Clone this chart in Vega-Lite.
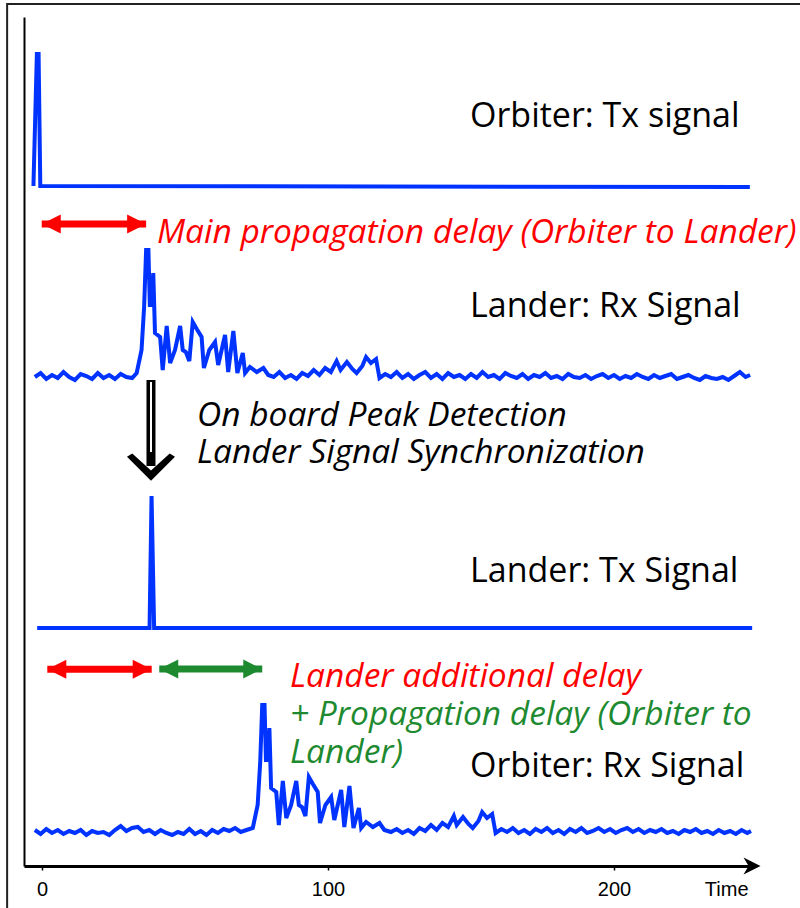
{
  "$schema": "https://vega.github.io/schema/vega-lite/v6.json",
  "width": 728,
  "height": 849,
  "autosize": {"type": "none"},
  "padding": {"left": 24, "top": 17, "right": 48, "bottom": 42},
  "background": "white",
  "config": {"view": {"stroke": null}},
  "datasets": {
    "frame": [{"t": -12.2, "t2": 330, "v": -200, "v2": 862}],
    "signals": [
      {"s": "otx", "t": -3.0, "v": 680}, {"s": "otx", "t": -1.8, "v": 812}, {"s": "otx", "t": -1.2, "v": 812}, {"s": "otx", "t": -0.6, "v": 680}, {"s": "otx", "t": 247.5, "v": 679},
      {"s": "ltx", "t": -1.7, "v": 238}, {"s": "ltx", "t": 37.6, "v": 238}, {"s": "ltx", "t": 38.3, "v": 370}, {"s": "ltx", "t": 39.2, "v": 238}, {"s": "ltx", "t": 248.3, "v": 238},
      {"s": "lrx", "t": -2.5, "v": 489}, {"s": "lrx", "t": -0.5, "v": 493}, {"s": "lrx", "t": 1.5, "v": 487}, {"s": "lrx", "t": 3.5, "v": 491}, {"s": "lrx", "t": 5.5, "v": 488}, {"s": "lrx", "t": 7.5, "v": 494}, {"s": "lrx", "t": 9.5, "v": 489}, {"s": "lrx", "t": 11.5, "v": 486}, {"s": "lrx", "t": 13.5, "v": 492}, {"s": "lrx", "t": 15.5, "v": 490}, {"s": "lrx", "t": 17.5, "v": 487}, {"s": "lrx", "t": 19.5, "v": 493}, {"s": "lrx", "t": 21.5, "v": 488}, {"s": "lrx", "t": 23.5, "v": 491}, {"s": "lrx", "t": 25.5, "v": 487}, {"s": "lrx", "t": 27.5, "v": 492}, {"s": "lrx", "t": 29.5, "v": 489}, {"s": "lrx", "t": 31.5, "v": 488},
      {"s": "lrx", "t": 33.1, "v": 493}, {"s": "lrx", "t": 34.8, "v": 516}, {"s": "lrx", "t": 35.7, "v": 559}, {"s": "lrx", "t": 36.4, "v": 616}, {"s": "lrx", "t": 37.2, "v": 616}, {"s": "lrx", "t": 37.7, "v": 561}, {"s": "lrx", "t": 38.3, "v": 561}, {"s": "lrx", "t": 38.9, "v": 593}, {"s": "lrx", "t": 39.5, "v": 533}, {"s": "lrx", "t": 41.3, "v": 529}, {"s": "lrx", "t": 42.2, "v": 496}, {"s": "lrx", "t": 43.6, "v": 540}, {"s": "lrx", "t": 44.8, "v": 503}, {"s": "lrx", "t": 46.5, "v": 516}, {"s": "lrx", "t": 48.3, "v": 540}, {"s": "lrx", "t": 49.2, "v": 516}, {"s": "lrx", "t": 50.3, "v": 514}, {"s": "lrx", "t": 51.5, "v": 505}, {"s": "lrx", "t": 52.7, "v": 544}, {"s": "lrx", "t": 54.1, "v": 537}, {"s": "lrx", "t": 55.8, "v": 529}, {"s": "lrx", "t": 56.6, "v": 498}, {"s": "lrx", "t": 58.5, "v": 516}, {"s": "lrx", "t": 60.5, "v": 524}, {"s": "lrx", "t": 61.6, "v": 501}, {"s": "lrx", "t": 64.0, "v": 531}, {"s": "lrx", "t": 65.1, "v": 494}, {"s": "lrx", "t": 66.9, "v": 535}, {"s": "lrx", "t": 68.3, "v": 493}, {"s": "lrx", "t": 70.2, "v": 513}, {"s": "lrx", "t": 71.0, "v": 493}, {"s": "lrx", "t": 72.7, "v": 499}, {"s": "lrx", "t": 75.1, "v": 494}, {"s": "lrx", "t": 77.4, "v": 498}, {"s": "lrx", "t": 79.1, "v": 491},
      {"s": "lrx", "t": 81, "v": 489}, {"s": "lrx", "t": 83, "v": 494}, {"s": "lrx", "t": 85, "v": 488}, {"s": "lrx", "t": 87, "v": 491}, {"s": "lrx", "t": 89, "v": 487}, {"s": "lrx", "t": 91, "v": 493}, {"s": "lrx", "t": 93, "v": 490}, {"s": "lrx", "t": 95, "v": 496}, {"s": "lrx", "t": 97, "v": 491}, {"s": "lrx", "t": 99, "v": 498}, {"s": "lrx", "t": 101, "v": 494}, {"s": "lrx", "t": 103, "v": 505}, {"s": "lrx", "t": 104.4, "v": 496}, {"s": "lrx", "t": 106.6, "v": 504}, {"s": "lrx", "t": 108.5, "v": 497}, {"s": "lrx", "t": 110, "v": 493}, {"s": "lrx", "t": 112, "v": 500}, {"s": "lrx", "t": 113.3, "v": 509}, {"s": "lrx", "t": 115, "v": 503}, {"s": "lrx", "t": 116.8, "v": 507}, {"s": "lrx", "t": 118, "v": 488},
      {"s": "lrx", "t": 120, "v": 492}, {"s": "lrx", "t": 122, "v": 489}, {"s": "lrx", "t": 124, "v": 494}, {"s": "lrx", "t": 126, "v": 488}, {"s": "lrx", "t": 128, "v": 492}, {"s": "lrx", "t": 130, "v": 487}, {"s": "lrx", "t": 132, "v": 491}, {"s": "lrx", "t": 134, "v": 494}, {"s": "lrx", "t": 136, "v": 488}, {"s": "lrx", "t": 138, "v": 492}, {"s": "lrx", "t": 140, "v": 487}, {"s": "lrx", "t": 142, "v": 493}, {"s": "lrx", "t": 144, "v": 489}, {"s": "lrx", "t": 146, "v": 491}, {"s": "lrx", "t": 148, "v": 487}, {"s": "lrx", "t": 150, "v": 492}, {"s": "lrx", "t": 152, "v": 488}, {"s": "lrx", "t": 154, "v": 494}, {"s": "lrx", "t": 156, "v": 489}, {"s": "lrx", "t": 158, "v": 491}, {"s": "lrx", "t": 160, "v": 487}, {"s": "lrx", "t": 162, "v": 493}, {"s": "lrx", "t": 164, "v": 490}, {"s": "lrx", "t": 166, "v": 488}, {"s": "lrx", "t": 168, "v": 492}, {"s": "lrx", "t": 170, "v": 487}, {"s": "lrx", "t": 172, "v": 491}, {"s": "lrx", "t": 174, "v": 489}, {"s": "lrx", "t": 176, "v": 493}, {"s": "lrx", "t": 178, "v": 488}, {"s": "lrx", "t": 180, "v": 490}, {"s": "lrx", "t": 182, "v": 487}, {"s": "lrx", "t": 184, "v": 492}, {"s": "lrx", "t": 186, "v": 489}, {"s": "lrx", "t": 188, "v": 488}, {"s": "lrx", "t": 190, "v": 491}, {"s": "lrx", "t": 192, "v": 487}, {"s": "lrx", "t": 194, "v": 490}, {"s": "lrx", "t": 196, "v": 492}, {"s": "lrx", "t": 198, "v": 488}, {"s": "lrx", "t": 200, "v": 491}, {"s": "lrx", "t": 202, "v": 487}, {"s": "lrx", "t": 204, "v": 490}, {"s": "lrx", "t": 206, "v": 488}, {"s": "lrx", "t": 208, "v": 492}, {"s": "lrx", "t": 210, "v": 489}, {"s": "lrx", "t": 212, "v": 487}, {"s": "lrx", "t": 214, "v": 491}, {"s": "lrx", "t": 216, "v": 488}, {"s": "lrx", "t": 218, "v": 490}, {"s": "lrx", "t": 220, "v": 492}, {"s": "lrx", "t": 222, "v": 487}, {"s": "lrx", "t": 224, "v": 489}, {"s": "lrx", "t": 226, "v": 491}, {"s": "lrx", "t": 228, "v": 488}, {"s": "lrx", "t": 230, "v": 486}, {"s": "lrx", "t": 232, "v": 490}, {"s": "lrx", "t": 234, "v": 488}, {"s": "lrx", "t": 236, "v": 487}, {"s": "lrx", "t": 238, "v": 489}, {"s": "lrx", "t": 240, "v": 486}, {"s": "lrx", "t": 242, "v": 490}, {"s": "lrx", "t": 244, "v": 494}, {"s": "lrx", "t": 246, "v": 489}, {"s": "lrx", "t": 247.6, "v": 491},
      {"s": "orx", "t": -2.5, "v": 36}, {"s": "orx", "t": -0.5, "v": 32}, {"s": "orx", "t": 1.5, "v": 37}, {"s": "orx", "t": 3.5, "v": 33}, {"s": "orx", "t": 5.5, "v": 36}, {"s": "orx", "t": 7.5, "v": 32}, {"s": "orx", "t": 9.5, "v": 35}, {"s": "orx", "t": 11.5, "v": 33}, {"s": "orx", "t": 13.5, "v": 36}, {"s": "orx", "t": 15.5, "v": 31}, {"s": "orx", "t": 17.5, "v": 35}, {"s": "orx", "t": 19.5, "v": 33}, {"s": "orx", "t": 21.5, "v": 34}, {"s": "orx", "t": 23.5, "v": 31}, {"s": "orx", "t": 25.5, "v": 36}, {"s": "orx", "t": 27.5, "v": 40}, {"s": "orx", "t": 29.5, "v": 35}, {"s": "orx", "t": 31.5, "v": 38}, {"s": "orx", "t": 33.5, "v": 39}, {"s": "orx", "t": 35.5, "v": 34}, {"s": "orx", "t": 37.5, "v": 36}, {"s": "orx", "t": 39.5, "v": 32}, {"s": "orx", "t": 41.5, "v": 36}, {"s": "orx", "t": 43.5, "v": 33}, {"s": "orx", "t": 45.5, "v": 31}, {"s": "orx", "t": 47.5, "v": 34}, {"s": "orx", "t": 49.5, "v": 32}, {"s": "orx", "t": 51.5, "v": 37}, {"s": "orx", "t": 53.5, "v": 32}, {"s": "orx", "t": 55.5, "v": 35}, {"s": "orx", "t": 57.5, "v": 31}, {"s": "orx", "t": 59.5, "v": 36}, {"s": "orx", "t": 61.5, "v": 33}, {"s": "orx", "t": 63.5, "v": 37}, {"s": "orx", "t": 65.5, "v": 35}, {"s": "orx", "t": 67.5, "v": 38}, {"s": "orx", "t": 69.5, "v": 34}, {"s": "orx", "t": 71.5, "v": 36},
      {"s": "orx", "t": 73.7, "v": 38}, {"s": "orx", "t": 75.4, "v": 61}, {"s": "orx", "t": 76.3, "v": 104}, {"s": "orx", "t": 77.0, "v": 161}, {"s": "orx", "t": 77.8, "v": 161}, {"s": "orx", "t": 78.3, "v": 106}, {"s": "orx", "t": 78.9, "v": 106}, {"s": "orx", "t": 79.5, "v": 138}, {"s": "orx", "t": 80.1, "v": 78}, {"s": "orx", "t": 81.9, "v": 74}, {"s": "orx", "t": 82.8, "v": 41}, {"s": "orx", "t": 84.2, "v": 85}, {"s": "orx", "t": 85.4, "v": 48}, {"s": "orx", "t": 87.1, "v": 61}, {"s": "orx", "t": 88.9, "v": 85}, {"s": "orx", "t": 89.8, "v": 61}, {"s": "orx", "t": 90.9, "v": 59}, {"s": "orx", "t": 92.1, "v": 50}, {"s": "orx", "t": 93.3, "v": 89}, {"s": "orx", "t": 94.7, "v": 82}, {"s": "orx", "t": 96.4, "v": 74}, {"s": "orx", "t": 97.2, "v": 43}, {"s": "orx", "t": 99.1, "v": 61}, {"s": "orx", "t": 101.1, "v": 69}, {"s": "orx", "t": 102.2, "v": 46}, {"s": "orx", "t": 104.6, "v": 76}, {"s": "orx", "t": 105.7, "v": 39}, {"s": "orx", "t": 107.5, "v": 80}, {"s": "orx", "t": 108.9, "v": 38}, {"s": "orx", "t": 110.8, "v": 58}, {"s": "orx", "t": 111.6, "v": 38}, {"s": "orx", "t": 113.3, "v": 44}, {"s": "orx", "t": 115.7, "v": 39}, {"s": "orx", "t": 118.0, "v": 43}, {"s": "orx", "t": 119.7, "v": 36},
      {"s": "orx", "t": 122, "v": 34}, {"s": "orx", "t": 124, "v": 37}, {"s": "orx", "t": 126, "v": 33}, {"s": "orx", "t": 128, "v": 36}, {"s": "orx", "t": 130, "v": 32}, {"s": "orx", "t": 132, "v": 38}, {"s": "orx", "t": 134, "v": 35}, {"s": "orx", "t": 136, "v": 41}, {"s": "orx", "t": 138, "v": 36}, {"s": "orx", "t": 140, "v": 43}, {"s": "orx", "t": 142, "v": 39}, {"s": "orx", "t": 144, "v": 50}, {"s": "orx", "t": 145.0, "v": 41}, {"s": "orx", "t": 147.2, "v": 49}, {"s": "orx", "t": 149.1, "v": 42}, {"s": "orx", "t": 150.6, "v": 38}, {"s": "orx", "t": 152.6, "v": 45}, {"s": "orx", "t": 153.9, "v": 54}, {"s": "orx", "t": 155.6, "v": 48}, {"s": "orx", "t": 157.4, "v": 52}, {"s": "orx", "t": 158.6, "v": 33},
      {"s": "orx", "t": 160.6, "v": 37}, {"s": "orx", "t": 162.6, "v": 34}, {"s": "orx", "t": 164.6, "v": 38}, {"s": "orx", "t": 166.6, "v": 33}, {"s": "orx", "t": 168.6, "v": 36}, {"s": "orx", "t": 170.6, "v": 32}, {"s": "orx", "t": 172.6, "v": 37}, {"s": "orx", "t": 174.6, "v": 34}, {"s": "orx", "t": 176.6, "v": 38}, {"s": "orx", "t": 178.6, "v": 33}, {"s": "orx", "t": 180.6, "v": 36}, {"s": "orx", "t": 182.6, "v": 32}, {"s": "orx", "t": 184.6, "v": 37}, {"s": "orx", "t": 186.6, "v": 34}, {"s": "orx", "t": 188.6, "v": 38}, {"s": "orx", "t": 190.6, "v": 33}, {"s": "orx", "t": 192.6, "v": 35}, {"s": "orx", "t": 194.6, "v": 38}, {"s": "orx", "t": 196.6, "v": 34}, {"s": "orx", "t": 198.6, "v": 37}, {"s": "orx", "t": 200.6, "v": 33}, {"s": "orx", "t": 202.6, "v": 36}, {"s": "orx", "t": 204.6, "v": 38}, {"s": "orx", "t": 206.6, "v": 34}, {"s": "orx", "t": 208.6, "v": 37}, {"s": "orx", "t": 210.6, "v": 33}, {"s": "orx", "t": 212.6, "v": 36}, {"s": "orx", "t": 214.6, "v": 34}, {"s": "orx", "t": 216.6, "v": 37}, {"s": "orx", "t": 218.6, "v": 33}, {"s": "orx", "t": 220.6, "v": 35}, {"s": "orx", "t": 222.6, "v": 32}, {"s": "orx", "t": 224.6, "v": 36}, {"s": "orx", "t": 226.6, "v": 34}, {"s": "orx", "t": 228.6, "v": 37}, {"s": "orx", "t": 230.6, "v": 33}, {"s": "orx", "t": 232.6, "v": 35}, {"s": "orx", "t": 234.6, "v": 32}, {"s": "orx", "t": 236.6, "v": 36}, {"s": "orx", "t": 238.6, "v": 33}, {"s": "orx", "t": 240.6, "v": 35}, {"s": "orx", "t": 242.6, "v": 32}, {"s": "orx", "t": 244.6, "v": 36}, {"s": "orx", "t": 246.6, "v": 33}, {"s": "orx", "t": 247.9, "v": 35}
    ],
    "arrows": [
      {"kind": "forward", "t": -0.1, "t2": 36.4, "v": 642},
      {"kind": "forward", "t": 1.85, "t2": 38.35, "v": 196.7},
      {"kind": "return", "t": 41.0, "t2": 77.0, "v": 197}
    ],
    "sync": [{"t": 38.1, "v": 486, "v2": 386}],
    "axisend": [{"t": 248.25, "v": 0}],
    "labels": [
      {"label": "Orbiter: Tx signal", "kind": "trace", "t": 149.65, "v": 739},
      {"label": "Lander: Rx Signal", "kind": "trace", "t": 149.65, "v": 549},
      {"label": "Lander: Tx Signal", "kind": "trace", "t": 149.65, "v": 284},
      {"label": "Orbiter: Rx Signal", "kind": "trace", "t": 149.65, "v": 89},
      {"label": "Main propagation delay (Orbiter to Lander)", "kind": "forward", "t": 40.2, "v": 623},
      {"label": "On board Peak Detection", "kind": "note", "t": 54.2, "v": 440},
      {"label": "Lander Signal Synchronization", "kind": "note", "t": 54.2, "v": 403},
      {"label": "Lander additional delay", "kind": "forward", "t": 86.7, "v": 179},
      {"label": "+ Propagation delay (Orbiter to", "kind": "return", "t": 86.7, "v": 141},
      {"label": "Lander)", "kind": "return", "t": 86.7, "v": 103}
    ]
  },
  "encoding": {
    "x": {
      "field": "t", "type": "quantitative",
      "scale": {"domain": [-6.3, 248.25], "nice": false, "zero": false},
      "axis": {
        "values": [0, 100, 200], "grid": false, "format": "d",
        "domainColor": "black", "domainWidth": 3,
        "tickColor": "black", "tickSize": 4, "tickWidth": 1.5,
        "labelFont": "Liberation Sans", "labelFontSize": 20, "labelColor": "black", "labelPadding": 9,
        "title": "Time", "titleX": 724, "titleY": 29, "titleAlign": "right", "titleBaseline": "alphabetic",
        "titleFont": "Liberation Sans", "titleFontSize": 20, "titleFontWeight": "normal", "titleColor": "black"
      }
    },
    "y": {
      "field": "v", "type": "quantitative",
      "scale": {"domain": [0, 849], "nice": false, "zero": false},
      "axis": {"domain": true, "domainColor": "black", "domainWidth": 2, "ticks": false, "labels": false, "grid": false, "title": null}
    }
  },
  "layer": [
    {
      "data": {"name": "frame"},
      "mark": {"type": "rect", "filled": false, "color": "#222222", "strokeWidth": 2},
      "encoding": {"x2": {"field": "t2"}, "y2": {"field": "v2"}}
    },
    {
      "data": {"name": "signals"},
      "mark": {"type": "line", "color": "#0033ff", "strokeWidth": 4, "strokeJoin": "miter"},
      "encoding": {"detail": {"field": "s", "type": "nominal"}}
    },
    {
      "data": {"name": "arrows"},
      "mark": {"type": "rule", "strokeWidth": 7},
      "encoding": {
        "x2": {"field": "t2"},
        "color": {"field": "kind", "type": "nominal", "scale": {"domain": ["forward", "return", "note", "trace"], "range": ["#ff0000", "#1e8a30", "#000000", "#000000"]}, "legend": null}
      }
    },
    {
      "data": {"name": "arrows"},
      "mark": {"type": "point", "shape": "M1,-1L-1,0L1,1Z", "size": 361, "filled": true, "opacity": 1, "xOffset": 9.5},
      "encoding": {
        "color": {"field": "kind", "type": "nominal", "scale": {"domain": ["forward", "return", "note", "trace"], "range": ["#ff0000", "#1e8a30", "#000000", "#000000"]}, "legend": null}
      }
    },
    {
      "data": {"name": "arrows"},
      "mark": {"type": "point", "shape": "M-1,-1L1,0L-1,1Z", "size": 361, "filled": true, "opacity": 1, "xOffset": -9.5},
      "encoding": {
        "x": {"field": "t2", "type": "quantitative"},
        "color": {"field": "kind", "type": "nominal", "scale": {"domain": ["forward", "return", "note", "trace"], "range": ["#ff0000", "#1e8a30", "#000000", "#000000"]}, "legend": null}
      }
    },
    {
      "data": {"name": "sync"},
      "mark": {"type": "rule", "color": "black", "strokeWidth": 9, "y2Offset": -14},
      "encoding": {"y2": {"field": "v2"}}
    },
    {
      "data": {"name": "sync"},
      "mark": {"type": "rule", "color": "white", "strokeWidth": 2, "yOffset": 2, "y2Offset": -28},
      "encoding": {"y2": {"field": "v2"}}
    },
    {
      "data": {"name": "sync"},
      "mark": {"type": "point", "shape": "M-1,-0.45L0,0.55L1,-0.45L0.78,-0.58L0,0.12L-0.78,-0.58Z", "size": 2304, "filled": true, "opacity": 1, "color": "black", "yOffset": -12.5},
      "encoding": {"y": {"field": "v2", "type": "quantitative"}}
    },
    {
      "data": {"name": "axisend"},
      "mark": {"type": "point", "shape": "M-1,-1L1,0L-1,1L-0.4,0Z", "size": 289, "filled": true, "opacity": 1, "color": "black"}
    },
    {
      "data": {"name": "labels"},
      "transform": [{"filter": "datum.kind === 'trace'"}],
      "mark": {"type": "text", "align": "left", "baseline": "alphabetic", "font": "Open Sans", "fontSize": 34},
      "encoding": {
        "text": {"field": "label"},
        "color": {"field": "kind", "type": "nominal", "scale": {"domain": ["forward", "return", "note", "trace"], "range": ["#ff0000", "#1e8a30", "#000000", "#000000"]}, "legend": null}
      }
    },
    {
      "data": {"name": "labels"},
      "transform": [{"filter": "datum.kind !== 'trace'"}],
      "mark": {"type": "text", "align": "left", "baseline": "alphabetic", "font": "Open Sans", "fontSize": 33.5, "fontStyle": "italic"},
      "encoding": {
        "text": {"field": "label"},
        "color": {"field": "kind", "type": "nominal", "scale": {"domain": ["forward", "return", "note", "trace"], "range": ["#ff0000", "#1e8a30", "#000000", "#000000"]}, "legend": null}
      }
    }
  ]
}
